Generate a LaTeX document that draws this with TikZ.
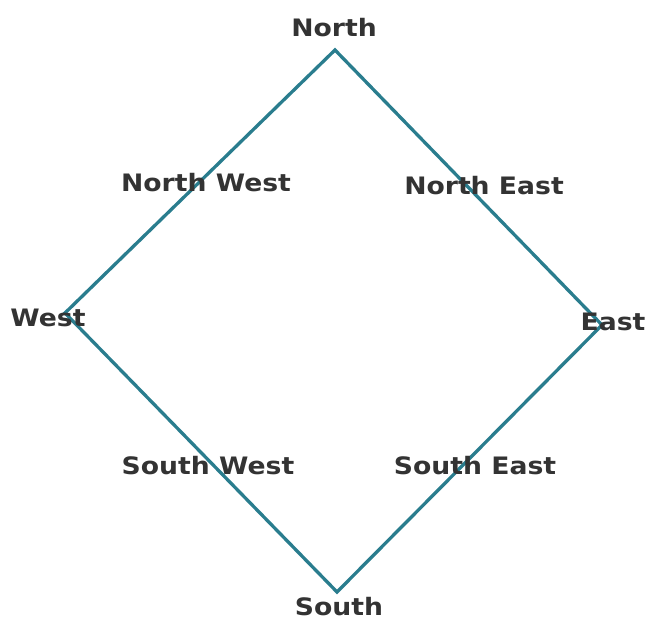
\documentclass[tikz,border=0pt]{standalone}
\usepackage{fontspec}
\setmainfont{DejaVu Sans}
\definecolor{edgecol}{HTML}{2A7D8E}
\definecolor{txtcol}{HTML}{333333}
\newcommand{\wide}[1]{\scalebox{1.11}[1]{#1}}
\begin{document}
\begin{tikzpicture}[x=1pt,y=1pt,
  lbl/.style={text=txtcol,font=\fontsize{24}{27}\selectfont\bfseries,inner sep=0pt},
  edge/.style={draw=edgecol,line width=3.3pt,line join=miter}]
\useasboundingbox (0,0) rectangle (650,621);
\coordinate (vN) at (335,571);
\coordinate (vE) at (602,296);
\coordinate (vS) at (337,29);
\coordinate (vW) at (65,308);
\draw[edge] (vN) -- (vE) -- (vS) -- (vW) -- cycle;
\node[lbl] (n) at (334,593) {\wide{North}};
\node[lbl] (w) at (48,303) {\wide{West}};
\node[lbl] (e) at (613,299) {\wide{East}};
\node[lbl] (s) at (339,14) {\wide{South}};
\node[lbl] (nw) at (206,438) {\wide{North West}};
\node[lbl] (ne) at (484,435) {\wide{North East}};
\node[lbl] (sw) at (208,155) {\wide{South West}};
\node[lbl] (se) at (475,155) {\wide{South East}};
\end{tikzpicture}
\end{document}
